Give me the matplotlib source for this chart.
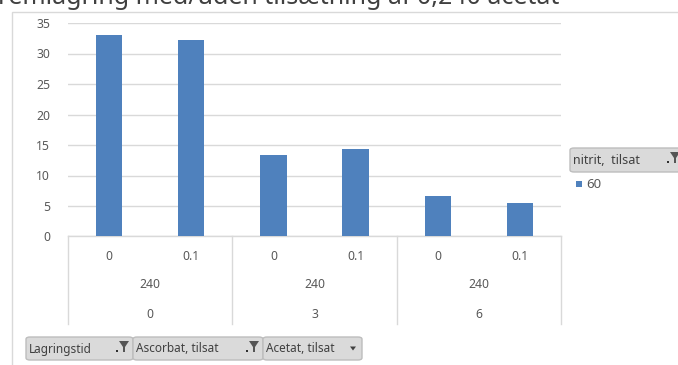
import matplotlib
matplotlib.use("Agg")
import matplotlib.pyplot as plt
from matplotlib.patches import FancyBboxPatch, Rectangle, Polygon
from matplotlib.lines import Line2D
import matplotlib.transforms as mtransforms

# Data
acetat_groups = ["0", "3", "6"]
nitrit_row = ["240", "240", "240"]
ascorbat_levels = ["0", "0.1", "0", "0.1", "0", "0.1"]
values_60 = [33.0, 32.2, 13.3, 14.3, 6.6, 5.5]
yticks = [0, 5, 10, 15, 20, 25, 30, 35]

W, H = 678, 365
BAR = "#4f81bd"
GRID = "#d9d9d9"
TXT = "#595959"
FONT = ["Noto Sans", "DejaVu Sans"]
plt.rcParams["font.family"] = FONT
LAB = 8.8

fig = plt.figure(figsize=(W / 100, H / 100), dpi=100)


def fx(x):
    return x / W


def fy(y):
    return 1 - y / H


# outer chart frame
fig.patches.append(Rectangle((fx(12), fy(400)), fx(700), fy(12) - fy(400),
                             transform=fig.transFigure, facecolor="white",
                             edgecolor=GRID, lw=1.0, zorder=-5))

# title (runs off the top of the image)
fig.text(fx(-2), fy(4), "remlagring med/uden tilsætning af 0,240 acetat",
         fontsize=18, color="#404040", ha="left", va="baseline")

left, right, top, bottom = 68, 561, 23, 236.5
ax = fig.add_axes([fx(left), fy(bottom), fx(right - left), fy(top) - fy(bottom)])
ax.set_facecolor("none")
ax.set_zorder(2)

x = list(range(len(values_60)))
ax.bar(x, values_60, width=0.32, color=BAR, zorder=3)
ax.set_xlim(-0.5, len(values_60) - 0.5)
ax.set_ylim(0, 35)
ax.set_yticks(yticks)
ax.set_yticklabels([str(t) for t in yticks], color=TXT, fontsize=LAB)
ax.tick_params(axis="y", length=0, pad=13)
ax.tick_params(axis="x", length=0, labelbottom=False)
ax.grid(axis="y", color=GRID, lw=1.0, zorder=0)
for s in ["top", "right", "left"]:
    ax.spines[s].set_visible(False)
ax.spines["bottom"].set_color(GRID)
ax.spines["bottom"].set_linewidth(1.0)

# multi-level category axis
trans = mtransforms.blended_transform_factory(ax.transData, fig.transFigure)
for i, lab in enumerate(ascorbat_levels):
    ax.text(i, fy(256), lab, transform=trans, ha="center", va="center",
            fontsize=LAB, color=TXT)
for g in range(len(acetat_groups)):
    cx = 2 * g + 0.5
    ax.text(cx, fy(285), nitrit_row[g], transform=trans, ha="center",
            va="center", fontsize=LAB, color=TXT)
    ax.text(cx, fy(314), acetat_groups[g], transform=trans, ha="center",
            va="center", fontsize=LAB, color=TXT)
for sx in [-0.5, 1.5, 3.5, 5.5]:
    ax.add_line(Line2D([sx, sx], [fy(bottom), fy(324)], transform=trans,
                       color=GRID, lw=1.0, clip_on=False))


def funnel(x0, y0):
    pts = [(x0, y0), (x0 + 10, y0), (x0 + 6, y0 + 6), (x0 + 6, y0 + 11),
           (x0 + 4, y0 + 11), (x0 + 4, y0 + 6)]
    fig.patches.append(Polygon([(fx(a), fy(b)) for a, b in pts],
                               transform=fig.transFigure, facecolor="#555555",
                               edgecolor="none", zorder=6))
    fig.patches.append(Rectangle((fx(x0 - 3), fy(y0 + 11)), fx(1.6), fy(0) - fy(1.6),
                                 transform=fig.transFigure, facecolor="#303030",
                                 edgecolor="none", zorder=6))


def button(x0, x1, y0, y1, label, kind, size=8.5):
    fig.patches.append(FancyBboxPatch((fx(x0), fy(y1)), fx(x1 - x0), fy(y0) - fy(y1),
                                      boxstyle="round,pad=0,rounding_size=0.006",
                                      transform=fig.transFigure,
                                      facecolor="#dadada", edgecolor="#bdbdbd",
                                      lw=1.0, zorder=5))
    fig.text(fx(x0 + 3), fy((y0 + y1) / 2 + 0.5), label, fontsize=size,
             color="#404040", ha="left", va="center", zorder=7)
    if kind == "filter":
        funnel(x1 - 14, y0 + 4)
    else:
        xa = x1 - 12
        ya = (y0 + y1) / 2 - 2
        tri = [(xa, ya), (xa + 6, ya), (xa + 3, ya + 4)]
        fig.patches.append(Polygon([(fx(a), fy(b)) for a, b in tri],
                                   transform=fig.transFigure, facecolor="#404040",
                                   edgecolor="none", zorder=6))


button(26, 133, 337, 360, "Lagringstid", "filter")
button(133, 263, 337, 360, "Ascorbat, tilsat", "filter")
button(263, 362, 337, 360, "Acetat, tilsat", "arrow")

# legend field button and entry
button(570, 684, 148, 172, "nitrit,  tilsat", "filter", size=9)
fig.patches.append(Rectangle((fx(576), fy(187)), fx(6), fy(0) - fy(6),
                             transform=fig.transFigure, facecolor=BAR,
                             edgecolor="none"))
fig.text(fx(586), fy(184), "60", fontsize=9.5, color=TXT, ha="left", va="center")

fig.savefig("out.png", dpi=100)
